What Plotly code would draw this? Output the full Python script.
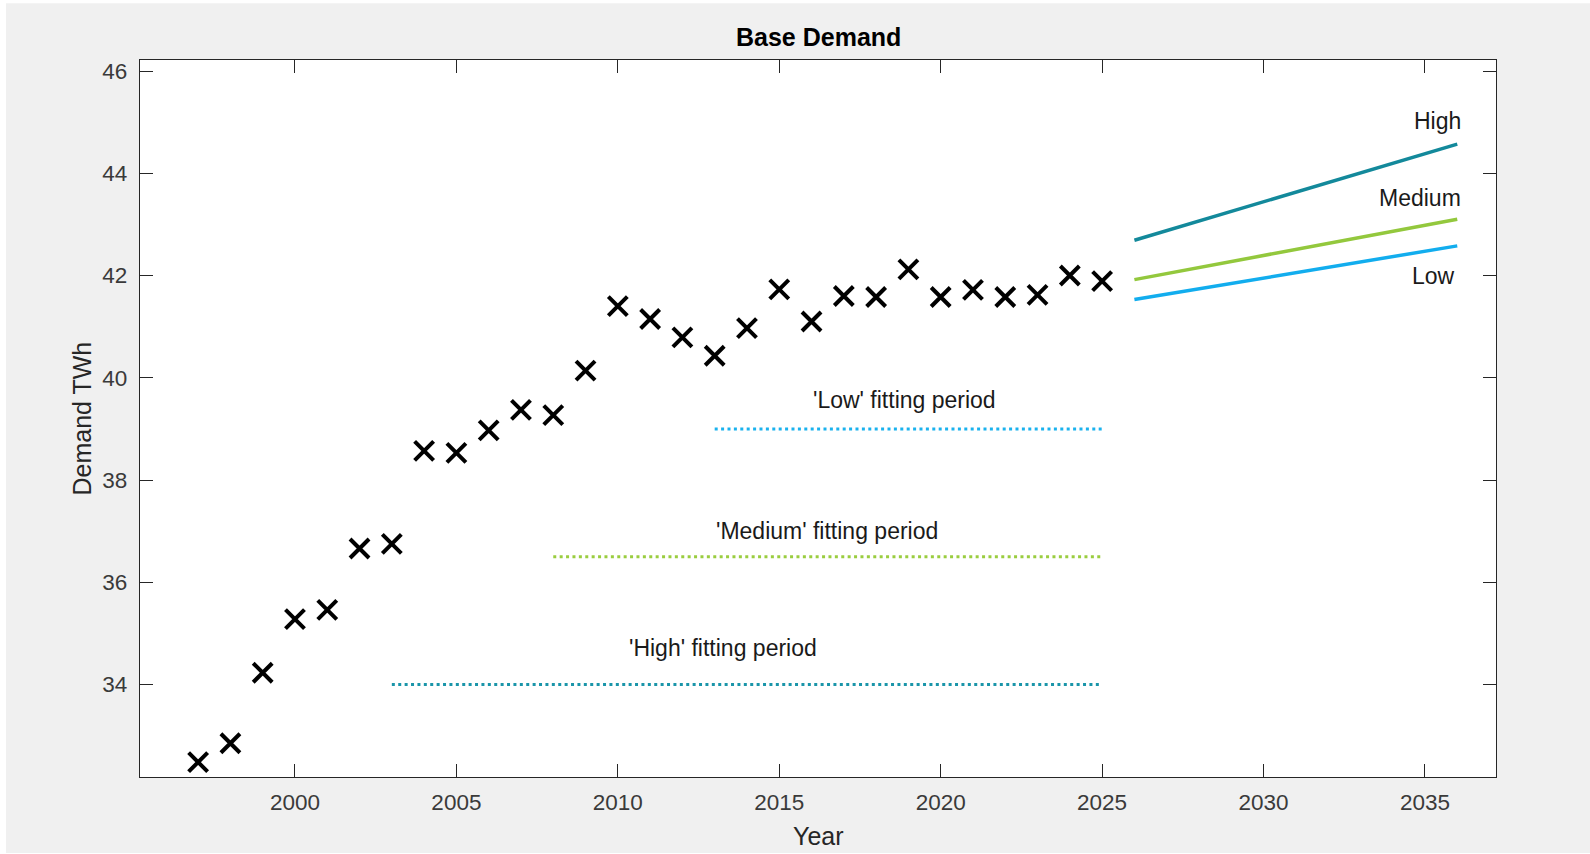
import plotly.graph_objects as go

# ---------------- data ----------------
years = list(range(1997, 2026))
demand = [32.48, 32.85, 34.23, 35.28, 35.46, 36.66, 36.75, 38.57, 38.53, 38.97,
          39.37, 39.27, 40.14, 41.40, 41.15, 40.79, 40.43, 40.97, 41.73, 41.10,
          41.60, 41.58, 42.12, 41.58, 41.72, 41.58, 41.62, 42.00, 41.89]

proj_years = [2026, 2036]
proj_high = [42.69, 44.57]
proj_medium = [41.92, 43.10]
proj_low = [41.53, 42.58]

fit_low_years = [2013, 2025]
fit_low_level = [39.0, 39.0]
fit_medium_years = [2008, 2025]
fit_medium_level = [36.5, 36.5]
fit_high_years = [2003, 2025]
fit_high_level = [34.0, 34.0]

x_ticks = [2000, 2005, 2010, 2015, 2020, 2025, 2030, 2035]
y_ticks = [34, 36, 38, 40, 42, 44, 46]

c_high = "#13899b"
c_medium = "#93c83d"
c_low = "#12adee"

# ---------------- layout geometry ----------------
W, H = 1590, 854
L, R, T, B = 140, 94, 60, 77
PW, PH = W - L - R, H - T - B


def px_x(p):
    return (p - L) / PW


def px_y(p):
    return (H - B - p) / PH


fig = go.Figure()

fig.add_trace(go.Scatter(x=fit_high_years, y=fit_high_level, mode="lines",
                         line=dict(color="#1a95a9", width=3, dash="3px,3.4px"),
                         hoverinfo="skip", showlegend=False))
fig.add_trace(go.Scatter(x=fit_medium_years, y=fit_medium_level, mode="lines",
                         line=dict(color="#9acd3f", width=3, dash="3px,3.4px"),
                         hoverinfo="skip", showlegend=False))
fig.add_trace(go.Scatter(x=fit_low_years, y=fit_low_level, mode="lines",
                         line=dict(color="#1ab2ee", width=3, dash="3px,3.4px"),
                         hoverinfo="skip", showlegend=False))

fig.add_trace(go.Scatter(x=proj_years, y=proj_high, mode="lines",
                         line=dict(color=c_high, width=3.5), showlegend=False))
fig.add_trace(go.Scatter(x=proj_years, y=proj_medium, mode="lines",
                         line=dict(color=c_medium, width=3.5), showlegend=False))
fig.add_trace(go.Scatter(x=proj_years, y=proj_low, mode="lines",
                         line=dict(color=c_low, width=3.5), showlegend=False))

fig.add_trace(go.Scatter(x=years, y=demand, mode="markers",
                         marker=dict(symbol="x-thin", size=19, color="black",
                                     line=dict(color="black", width=4)),
                         showlegend=False))

txt_font = dict(family="Liberation Sans, Arial, sans-serif", size=23, color="#1a1a1a")

annotations = [
    dict(x=2016.0, y=39.56, text="'Low' fitting period", xanchor="left"),
    dict(x=2013.0, y=37.01, text="'Medium' fitting period", xanchor="left"),
    dict(x=2010.3, y=34.71, text="'High' fitting period", xanchor="left"),
    dict(x=2036.15, y=45.02, text="High", xanchor="right"),
    dict(x=2036.15, y=43.52, text="Medium", xanchor="right"),
    dict(x=2035.95, y=41.99, text="Low", xanchor="right"),
]
for a in annotations:
    fig.add_annotation(x=a["x"], y=a["y"], text=a["text"], xanchor=a["xanchor"],
                       yanchor="middle", showarrow=False, font=txt_font,
                       xref="x", yref="y", borderpad=0)

# title and axis titles
fig.add_annotation(x=0.5, y=px_y(37.5), xref="paper", yref="paper", text="<b>Base Demand</b>",
                   showarrow=False, yanchor="middle", xanchor="center",
                   font=dict(family="Liberation Sans, Arial, sans-serif", size=25, color="#000"))
fig.add_annotation(x=0.5, y=px_y(836), xref="paper", yref="paper", text="Year",
                   showarrow=False, yanchor="middle", xanchor="center",
                   font=dict(family="Liberation Sans, Arial, sans-serif", size=25, color="#262626"))
fig.add_annotation(x=px_x(81), y=0.5, xref="paper", yref="paper", text="Demand TWh",
                   showarrow=False, yanchor="middle", xanchor="center", textangle=-90,
                   font=dict(family="Liberation Sans, Arial, sans-serif", size=25, color="#262626"))

# white strips around the grey figure background
for (x0, x1, y0, y1) in [(0, 6, 0, H), (0, W, 0, 3.3), (0, W, 853, H)]:
    fig.add_shape(type="rect", xref="paper", yref="paper",
                  x0=px_x(x0), x1=px_x(x1), y0=px_y(y1), y1=px_y(y0),
                  fillcolor="white", line=dict(width=0), layer="above")

axis_common = dict(showgrid=False, zeroline=False, showline=True, linecolor="#262626",
                   linewidth=1.2, ticks="inside", ticklen=13, tickwidth=1.2,
                   tickcolor="#262626", mirror="ticks",
                   tickfont=dict(family="Liberation Sans, Arial, sans-serif", size=22.5,
                                 color="#3a3a3a"))

fig.update_xaxes(range=[1995.2, 2037.2], tickvals=x_ticks, ticklabelstandoff=5, **axis_common)
fig.update_yaxes(range=[32.19, 46.216], tickvals=y_ticks, ticklabelstandoff=7, **axis_common)

fig.update_layout(width=W, height=H, margin=dict(l=L, r=R, t=T, b=B),
                  paper_bgcolor="#f0f0f0", plot_bgcolor="white",
                  showlegend=False)

fig.write_html("out.html", config={"displayModeBar": False},
               post_script="document.body.style.margin='0';document.body.style.overflow='hidden';")
